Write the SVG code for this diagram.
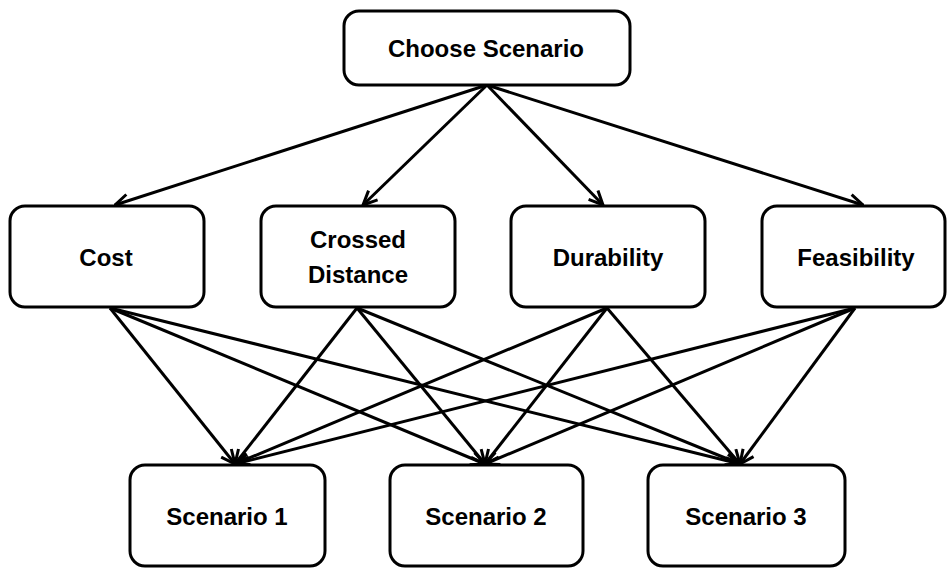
<svg xmlns="http://www.w3.org/2000/svg" width="947" height="568" viewBox="0 0 947 568">
<style>
.box{fill:#fff;stroke:#000;stroke-width:3}
.lbl{font-family:"Liberation Sans",Arial,sans-serif;font-weight:bold;font-size:24px;fill:#000;text-anchor:middle}
.edge{stroke:#000;stroke-width:3;fill:none;marker-end:url(#arr)}
</style>
<defs>
<marker id="arr" markerUnits="userSpaceOnUse" viewBox="0 0 16 16" refX="15" refY="8" markerWidth="16" markerHeight="16" orient="auto">
<path d="M1,1.5 L15,8 L1,14.5" fill="none" stroke="#000" stroke-width="3" stroke-linejoin="miter"/>
</marker>
</defs>
<rect width="947" height="568" fill="#fff"/>
<g id="connectors">
<line class="edge" x1="487" y1="85" x2="115" y2="205"/>
<line class="edge" x1="487" y1="85" x2="363" y2="205"/>
<line class="edge" x1="487" y1="85" x2="603" y2="205"/>
<line class="edge" x1="487" y1="85" x2="863" y2="205"/>
<line class="edge" x1="110" y1="308" x2="235" y2="464"/>
<line class="edge" x1="110" y1="308" x2="485" y2="464"/>
<line class="edge" x1="110" y1="308" x2="740" y2="464"/>
<line class="edge" x1="357" y1="308" x2="235" y2="464"/>
<line class="edge" x1="357" y1="308" x2="485" y2="464"/>
<line class="edge" x1="357" y1="308" x2="740" y2="464"/>
<line class="edge" x1="607" y1="308" x2="235" y2="464"/>
<line class="edge" x1="607" y1="308" x2="485" y2="464"/>
<line class="edge" x1="607" y1="308" x2="740" y2="464"/>
<line class="edge" x1="855" y1="308" x2="235" y2="464"/>
<line class="edge" x1="855" y1="308" x2="485" y2="464"/>
<line class="edge" x1="855" y1="308" x2="740" y2="464"/>
</g>
<g id="choose"><rect class="box" x="344" y="11" width="286" height="74" rx="15"/><text class="lbl" x="486" y="57">Choose Scenario</text></g>
<g id="cost"><rect class="box" x="10" y="206" width="194" height="101" rx="15"/><text class="lbl" x="106" y="266">Cost</text></g>
<g id="crossed"><rect class="box" x="261" y="206" width="194" height="101" rx="15"/><text class="lbl" x="358" y="248">Crossed</text><text class="lbl" x="358" y="283">Distance</text></g>
<g id="durability"><rect class="box" x="511" y="206" width="194" height="101" rx="15"/><text class="lbl" x="608" y="266">Durability</text></g>
<g id="feasibility"><rect class="box" x="762" y="206" width="183" height="101" rx="15"/><text class="lbl" x="856" y="266">Feasibility</text></g>
<g id="s1"><rect class="box" x="130" y="465" width="195" height="101" rx="15"/><text class="lbl" x="227" y="525">Scenario 1</text></g>
<g id="s2"><rect class="box" x="390" y="465" width="193" height="101" rx="15"/><text class="lbl" x="486" y="525">Scenario 2</text></g>
<g id="s3"><rect class="box" x="648" y="465" width="197" height="101" rx="15"/><text class="lbl" x="746" y="525">Scenario 3</text></g>
</svg>
